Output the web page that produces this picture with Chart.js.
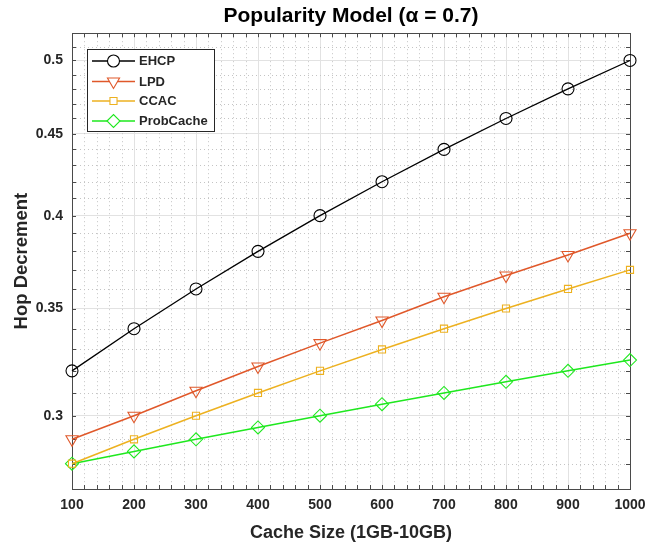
<!DOCTYPE html>
<html>
<head>
<meta charset="utf-8">
<script src="https://cdn.jsdelivr.net/npm/chart.js@4/dist/chart.umd.min.js"></script>
<style>
  html, body { margin: 0; padding: 0; background: #ffffff; }
  #wrap { width: 659px; height: 545px; }
</style>
</head>
<body>
<div id="wrap"><canvas id="c" width="659" height="545"></canvas></div>
<script>
// ---- data ----
const CACHE_SIZES = [100, 200, 300, 400, 500, 600, 700, 800, 900, 1000];
const EHCP      = [0.320, 0.340, 0.360, 0.380, 0.400, 0.420, 0.440, 0.460, 0.480, 0.500];
const LPD       = [0.290, 0.300, 0.311, 0.322, 0.333, 0.344, 0.356, 0.367, 0.378, 0.390];
const CCAC      = [0.280, 0.290, 0.300, 0.310, 0.320, 0.330, 0.340, 0.350, 0.360, 0.370];
const PROBCACHE = [0.280, 0.285, 0.290, 0.295, 0.300, 0.305, 0.310, 0.315, 0.320, 0.325];
const SERIES_NAMES = ['EHCP', 'LPD', 'CCAC', 'ProbCache'];
const X_TICKS = [100, 200, 300, 400, 500, 600, 700, 800, 900, 1000];
const Y_TICKS = [0.3, 0.35, 0.4, 0.45, 0.5];
const Y_TICK_LABELS = ['0.3', '0.35', '0.4', '0.45', '0.5'];
const X_MIN = 100, X_MAX = 1000, Y_MIN = 0.27, Y_MAX = 0.52;
const TITLE = 'Popularity Model (\u03b1 = 0.7)';
const X_TITLE = 'Cache Size (1GB-10GB)';
const Y_TITLE = 'Hop Decrement';

// minor grid positions
const X_MINOR = [];
for (let v = X_MIN; v <= X_MAX; v += 20) if (!X_TICKS.includes(v)) X_MINOR.push(v);
const Y_MINOR = [];
for (let k = 27; k <= 52; k++) { const v = k / 100; if (!Y_TICKS.some(t => Math.abs(t - v) < 1e-9)) Y_MINOR.push(v); }

const FONT = '"Liberation Sans", Arial, Helvetica, sans-serif';
const TEXT_COLOR = '#262626';

const styles = [
  { color: '#000000', pointStyle: 'circle',   rotation: 0,   radius: 6,   width: 1.3 },
  { color: '#e0582a', pointStyle: 'triangle', rotation: 180, radius: 7,   width: 1.5 },
  { color: '#edb120', pointStyle: 'rect',     rotation: 0,   radius: 5,   width: 1.5 },
  { color: '#1ee81e', pointStyle: 'rectRot',  rotation: 0,   radius: 6.5, width: 1.5 }
];
const values = [EHCP, LPD, CCAC, PROBCACHE];

const datasets = values.map((arr, i) => ({
  label: SERIES_NAMES[i],
  data: arr.map((v, j) => ({ x: CACHE_SIZES[j], y: v })),
  borderColor: styles[i].color,
  backgroundColor: 'rgba(0,0,0,0)',
  borderWidth: styles[i].width,
  pointStyle: styles[i].pointStyle,
  pointRotation: styles[i].rotation,
  pointRadius: styles[i].radius,
  pointBorderWidth: 1.1,
  pointBorderColor: styles[i].color,
  pointBackgroundColor: 'rgba(0,0,0,0)',
  tension: 0,
  clip: false
}));

const matlabAxes = {
  id: 'matlabAxes',
  beforeDatasetsDraw(chart) {
    const { ctx, chartArea } = chart;
    const { left, right, top, bottom } = chartArea;
    const xs = chart.scales.x, ys = chart.scales.y;
    ctx.save();
    // minor dotted grid
    ctx.strokeStyle = '#c4c4c4';
    ctx.lineWidth = 1;
    ctx.setLineDash([1, 3]);
    X_MINOR.forEach(v => {
      const p = Math.round(xs.getPixelForValue(v)) + 0.5;
      ctx.beginPath(); ctx.moveTo(p, top); ctx.lineTo(p, bottom); ctx.stroke();
    });
    Y_MINOR.forEach(v => {
      const p = Math.round(ys.getPixelForValue(v)) + 0.5;
      ctx.beginPath(); ctx.moveTo(left, p); ctx.lineTo(right, p); ctx.stroke();
    });
    ctx.setLineDash([]);
    // box
    ctx.strokeStyle = '#4a4a4a';
    ctx.lineWidth = 1;
    ctx.strokeRect(Math.round(left) + 0.5, Math.round(top) + 0.5,
                   Math.round(right) - Math.round(left), Math.round(bottom) - Math.round(top));
    // inward ticks
    const TL = 4;
    const allX = X_MINOR.concat(X_TICKS);
    const allY = Y_MINOR.concat(Y_TICKS);
    ctx.beginPath();
    allX.forEach(v => {
      const p = Math.round(xs.getPixelForValue(v)) + 0.5;
      ctx.moveTo(p, bottom); ctx.lineTo(p, bottom - TL);
      ctx.moveTo(p, top); ctx.lineTo(p, top + TL);
    });
    allY.forEach(v => {
      const p = Math.round(ys.getPixelForValue(v)) + 0.5;
      ctx.moveTo(left, p); ctx.lineTo(left + TL, p);
      ctx.moveTo(right, p); ctx.lineTo(right - TL, p);
    });
    ctx.stroke();
    ctx.restore();
  },
  afterDatasetsDraw(chart) {
    const { ctx } = chart;
    ctx.save();
    const bx = 87, by = 49, bw = 127, bh = 82;
    ctx.fillStyle = '#ffffff';
    ctx.fillRect(bx, by, bw, bh);
    ctx.strokeStyle = '#262626';
    ctx.lineWidth = 1;
    ctx.strokeRect(bx + 0.5, by + 0.5, bw, bh);
    const rowY = [61, 81.5, 101, 121];
    chart.data.datasets.forEach((ds, i) => {
      const y = rowY[i];
      ctx.strokeStyle = ds.borderColor;
      ctx.lineWidth = ds.borderWidth;
      ctx.beginPath(); ctx.moveTo(92, y); ctx.lineTo(135, y); ctx.stroke();
      const opts = {
        pointStyle: ds.pointStyle, rotation: ds.pointRotation,
        radius: ds.pointRadius, borderWidth: ds.pointBorderWidth
      };
      ctx.fillStyle = '#ffffff';
      ctx.strokeStyle = ds.borderColor;
      ctx.lineWidth = ds.pointBorderWidth;
      if (Chart.helpers && Chart.helpers.drawPoint) {
        Chart.helpers.drawPoint(ctx, opts, 113.5, y);
      }
      ctx.fillStyle = TEXT_COLOR;
      ctx.font = 'bold 13px ' + FONT;
      ctx.textBaseline = 'middle';
      ctx.textAlign = 'left';
      ctx.fillText(ds.label, 139, y + 0.5);
    });
    ctx.restore();
  }
};

new Chart(document.getElementById('c'), {
  type: 'line',
  data: { datasets },
  plugins: [matlabAxes],
  options: {
    responsive: false,
    animation: false,
    events: [],
    layout: { padding: { left: 0, right: 29, top: 0, bottom: 0 } },
    plugins: {
      legend: { display: false },
      tooltip: { enabled: false },
      title: {
        display: true, text: TITLE, color: '#000000', fullSize: false,
        font: { family: FONT, size: 21, weight: 'bold' },
        padding: { top: 4, bottom: 4 }
      }
    },
    scales: {
      x: {
        type: 'linear', min: X_MIN, max: X_MAX,
        afterBuildTicks(scale) { scale.ticks = X_TICKS.map(v => ({ value: v })); },
        afterFit(scale) { scale.height = 56; },
        ticks: {
          color: TEXT_COLOR, padding: 8, maxRotation: 0, autoSkip: false,
          font: { family: FONT, size: 14, weight: 'bold' },
          callback: (v) => String(v)
        },
        grid: { color: '#e2e2e2', lineWidth: 1, drawTicks: false },
        border: { display: false },
        title: {
          display: true, text: X_TITLE, color: TEXT_COLOR,
          font: { family: FONT, size: 18, weight: 'bold' },
          padding: { top: 0, bottom: 1 }
        }
      },
      y: {
        type: 'logarithmic', min: Y_MIN, max: Y_MAX,
        afterBuildTicks(scale) { scale.ticks = Y_TICKS.map(v => ({ value: v })); },
        afterFit(scale) { scale.width = 72; },
        ticks: {
          color: TEXT_COLOR, padding: 9, autoSkip: false,
          font: { family: FONT, size: 14, weight: 'bold' },
          callback: (v, i) => Y_TICK_LABELS[i]
        },
        grid: { color: '#e2e2e2', lineWidth: 1, drawTicks: false },
        border: { display: false },
        title: {
          display: true, text: Y_TITLE, color: TEXT_COLOR,
          font: { family: FONT, size: 18.5, weight: 'bold' },
          padding: { top: 11, bottom: 0 }
        }
      }
    }
  }
});
</script>
</body>
</html>
